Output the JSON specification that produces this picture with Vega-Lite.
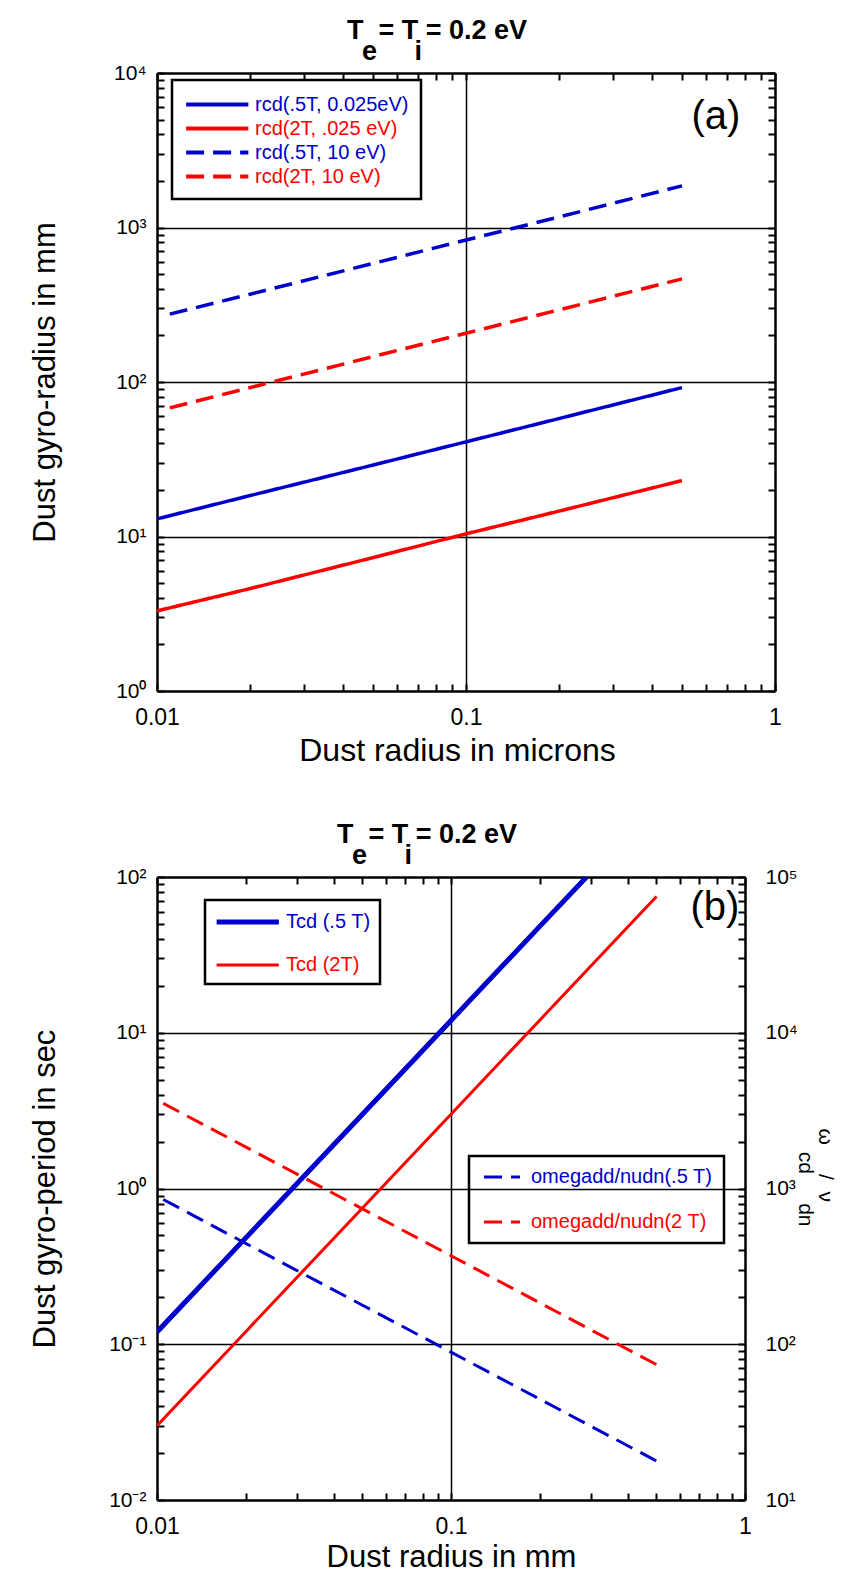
{
  "$schema": "https://vega.github.io/schema/vega-lite/v6.json",
  "padding": {"left": 29, "top": 17, "right": 0, "bottom": 0},
  "background": "white",
  "spacing": 55,
  "config": {
    "view": {"stroke": null},
    "font": "Liberation Sans",
    "axis": {
      "domainColor": "black", "domainWidth": 2.5, "tickColor": "black", "tickWidth": 2, "tickSize": -7,
      "labelColor": "black", "labelFont": "Liberation Sans", "titleFont": "Liberation Sans", "titleFontWeight": "normal",
      "titleColor": "black", "labelOverlap": false, "labelFlush": false, "labelBound": false,
      "gridColor": "black", "gridWidth": 1.5
    }
  },
  "datasets": {
    "a": [
      {"r": 0.01, "v": 13, "s": "rcd(.5T, 0.025eV)"}, {"r": 0.02, "v": 18.4, "s": "rcd(.5T, 0.025eV)"}, {"r": 0.05, "v": 29, "s": "rcd(.5T, 0.025eV)"}, {"r": 0.1, "v": 41, "s": "rcd(.5T, 0.025eV)"}, {"r": 0.2, "v": 58, "s": "rcd(.5T, 0.025eV)"}, {"r": 0.5, "v": 92, "s": "rcd(.5T, 0.025eV)"},
      {"r": 0.01, "v": 3.3, "s": "rcd(2T, .025 eV)"}, {"r": 0.02, "v": 4.6, "s": "rcd(2T, .025 eV)"}, {"r": 0.05, "v": 7.3, "s": "rcd(2T, .025 eV)"}, {"r": 0.1, "v": 10.4, "s": "rcd(2T, .025 eV)"}, {"r": 0.2, "v": 14.6, "s": "rcd(2T, .025 eV)"}, {"r": 0.5, "v": 23, "s": "rcd(2T, .025 eV)"},
      {"r": 0.011, "v": 275, "s": "rcd(.5T, 10 eV)"}, {"r": 0.02, "v": 370, "s": "rcd(.5T, 10 eV)"}, {"r": 0.05, "v": 585, "s": "rcd(.5T, 10 eV)"}, {"r": 0.1, "v": 830, "s": "rcd(.5T, 10 eV)"}, {"r": 0.2, "v": 1170, "s": "rcd(.5T, 10 eV)"}, {"r": 0.5, "v": 1860, "s": "rcd(.5T, 10 eV)"},
      {"r": 0.011, "v": 68, "s": "rcd(2T, 10 eV)"}, {"r": 0.02, "v": 92, "s": "rcd(2T, 10 eV)"}, {"r": 0.05, "v": 146, "s": "rcd(2T, 10 eV)"}, {"r": 0.1, "v": 207, "s": "rcd(2T, 10 eV)"}, {"r": 0.2, "v": 293, "s": "rcd(2T, 10 eV)"}, {"r": 0.5, "v": 465, "s": "rcd(2T, 10 eV)"}
    ],
    "tcd": [
      {"r": 0.01, "v": 0.12, "s": "Tcd (.5 T)"}, {"r": 0.02, "v": 0.48, "s": "Tcd (.5 T)"}, {"r": 0.05, "v": 3, "s": "Tcd (.5 T)"}, {"r": 0.1, "v": 12, "s": "Tcd (.5 T)"}, {"r": 0.2, "v": 48, "s": "Tcd (.5 T)"}, {"r": 0.289, "v": 100, "s": "Tcd (.5 T)"},
      {"r": 0.01, "v": 0.03, "s": "Tcd (2T)"}, {"r": 0.02, "v": 0.12, "s": "Tcd (2T)"}, {"r": 0.05, "v": 0.75, "s": "Tcd (2T)"}, {"r": 0.1, "v": 3, "s": "Tcd (2T)"}, {"r": 0.2, "v": 12, "s": "Tcd (2T)"}, {"r": 0.5, "v": 75, "s": "Tcd (2T)"}
    ],
    "om": [
      {"r": 0.0105, "v": 850, "s": "omegadd/nudn(.5 T)"}, {"r": 0.02, "v": 445, "s": "omegadd/nudn(.5 T)"}, {"r": 0.05, "v": 178, "s": "omegadd/nudn(.5 T)"}, {"r": 0.1, "v": 89, "s": "omegadd/nudn(.5 T)"}, {"r": 0.2, "v": 44.5, "s": "omegadd/nudn(.5 T)"}, {"r": 0.5, "v": 17.8, "s": "omegadd/nudn(.5 T)"},
      {"r": 0.0105, "v": 3520, "s": "omegadd/nudn(2 T)"}, {"r": 0.02, "v": 1850, "s": "omegadd/nudn(2 T)"}, {"r": 0.05, "v": 740, "s": "omegadd/nudn(2 T)"}, {"r": 0.1, "v": 370, "s": "omegadd/nudn(2 T)"}, {"r": 0.2, "v": 185, "s": "omegadd/nudn(2 T)"}, {"r": 0.5, "v": 74, "s": "omegadd/nudn(2 T)"}
    ]
  },
  "vconcat": [
    {
      "width": 618, "height": 618,
      "title": {"text": ["T\u00a0\u00a0= T\u00a0= 0.2 eV", "\u200b\u00a0\u00a0e\u00a0\u00a0\u00a0\u00a0\u00a0i"], "anchor": "start", "frame": "group", "align": "left", "dx": 190, "fontSize": 27, "fontWeight": "bold", "font": "Liberation Sans", "lineHeight": 21, "offset": -4, "color": "black"},
      "layer": [
        {
          "data": {"name": "a"},
          "mark": {"type": "line", "strokeWidth": 3.5, "clip": true},
          "encoding": {
            "x": {"field": "r", "type": "quantitative", "scale": {"type": "log", "domain": [0.01, 1]},
              "axis": {"orient": "bottom", "values": [0.01,0.02,0.03,0.04,0.05,0.06,0.07,0.08,0.09,0.1,0.2,0.3,0.4,0.5,0.6,0.7,0.8,0.9,1],
                "labelExpr": "datum.value == 0.01 ? '0.01' : datum.value == 0.1 ? '0.1' : datum.value == 1 ? '1' : ''",
                "labelFontSize": 23, "labelPadding": 22, "labelBaseline": "top",
                "grid": true, "gridOpacity": {"condition": {"test": "datum.value == 0.1", "value": 1}, "value": 0},
                "title": "Dust radius in microns", "titleFontSize": 32, "titleX": 300, "titleAlign": "center", "titleY": 69, "titleBaseline": "alphabetic"}},
            "y": {"field": "v", "type": "quantitative", "scale": {"type": "log", "domain": [1, 10000]},
              "axis": {"orient": "left", "values": [1,2,3,4,5,6,7,8,9,10,20,30,40,50,60,70,80,90,100,200,300,400,500,600,700,800,900,1000,2000,3000,4000,5000,6000,7000,8000,9000,10000],
                "labelExpr": "datum.value == 1 ? '10⁰' : datum.value == 10 ? '10¹' : datum.value == 100 ? '10²' : datum.value == 1000 ? '10³' : datum.value == 10000 ? '10⁴' : ''",
                "labelFontSize": 21, "labelPadding": 18, "labelBaseline": "middle",
                "grid": true, "gridOpacity": {"condition": {"test": "datum.value == 10 || datum.value == 100 || datum.value == 1000", "value": 1}, "value": 0},
                "title": "Dust gyro-radius in mm", "titleFontSize": 31, "titleX": -103, "titleBaseline": "alphabetic"}},
            "color": {"field": "s", "type": "nominal",
              "scale": {"domain": ["rcd(.5T, 0.025eV)", "rcd(2T, .025 eV)", "rcd(.5T, 10 eV)", "rcd(2T, 10 eV)"], "range": ["#0000cc", "#ff0000", "#0000cc", "#ff0000"]},
              "legend": {"orient": "none", "legendX": 15, "legendY": 7, "title": null, "direction": "vertical", "symbolType": "M-1,0H5", "symbolSize": 430, "symbolStrokeWidth": 4, "labelFontSize": 20, "labelFont": "Liberation Sans", "labelOffset": 46, "padding": 12, "rowPadding": 1, "strokeColor": "black", "labelLimit": 400,
                "encode": {"labels": {"update": {"fill": {"signal": "indexof(datum.value, '2T') >= 0 ? '#ff0000' : '#0000cc'"}}}, "legend": {"update": {"strokeWidth": {"value": 2.5}}}}}},
            "strokeDash": {"field": "s", "type": "nominal",
              "scale": {"domain": ["rcd(.5T, 0.025eV)", "rcd(2T, .025 eV)", "rcd(.5T, 10 eV)", "rcd(2T, 10 eV)"], "range": [[1, 0], [1, 0], [18, 9], [18, 9]]},
              "legend": {"orient": "none", "legendX": 15, "legendY": 7, "title": null, "direction": "vertical", "symbolType": "M-1,0H5", "symbolSize": 430, "symbolStrokeWidth": 4, "labelFontSize": 20, "labelFont": "Liberation Sans", "labelOffset": 46, "padding": 12, "rowPadding": 1, "strokeColor": "black", "labelLimit": 400,
                "encode": {"labels": {"update": {"fill": {"signal": "indexof(datum.value, '2T') >= 0 ? '#ff0000' : '#0000cc'"}}}, "legend": {"update": {"strokeWidth": {"value": 2.5}}}}}}
          }
        },
        {
          "data": {"values": [{"lx": 0.644, "ly": 5190, "t": "(a)"}]},
          "mark": {"type": "text", "fontSize": 40, "font": "Liberation Sans", "color": "black", "baseline": "middle", "align": "center"},
          "encoding": {
            "x": {"field": "lx", "type": "quantitative", "axis": {"orient": "top", "values": [0.01,0.02,0.03,0.04,0.05,0.06,0.07,0.08,0.09,0.1,0.2,0.3,0.4,0.5,0.6,0.7,0.8,0.9,1], "labels": false, "title": null, "grid": false}},
            "y": {"field": "ly", "type": "quantitative", "axis": {"orient": "right", "values": [1,2,3,4,5,6,7,8,9,10,20,30,40,50,60,70,80,90,100,200,300,400,500,600,700,800,900,1000,2000,3000,4000,5000,6000,7000,8000,9000,10000], "labels": false, "title": null, "grid": false}},
            "text": {"field": "t"}
          }
        }
      ],
      "resolve": {"axis": {"x": "independent", "y": "independent"}}
    },
    {
      "width": 588, "height": 623,
      "title": {"text": ["T\u00a0\u00a0= T\u00a0= 0.2 eV", "\u200b\u00a0\u00a0e\u00a0\u00a0\u00a0\u00a0\u00a0i"], "anchor": "start", "frame": "group", "align": "left", "dx": 180, "fontSize": 27, "fontWeight": "bold", "font": "Liberation Sans", "lineHeight": 21, "offset": -4, "color": "black"},
      "layer": [
        {
          "data": {"name": "tcd"},
          "mark": {"type": "line", "clip": true},
          "encoding": {
            "x": {"field": "r", "type": "quantitative", "scale": {"type": "log", "domain": [0.01, 1]},
              "axis": {"orient": "bottom", "values": [0.01,0.02,0.03,0.04,0.05,0.06,0.07,0.08,0.09,0.1,0.2,0.3,0.4,0.5,0.6,0.7,0.8,0.9,1],
                "labelExpr": "datum.value == 0.01 ? '0.01' : datum.value == 0.1 ? '0.1' : datum.value == 1 ? '1' : ''",
                "labelFontSize": 23, "labelPadding": 22, "labelBaseline": "top",
                "grid": true, "gridOpacity": {"condition": {"test": "datum.value == 0.1", "value": 1}, "value": 0},
                "title": "Dust radius in mm", "titleFontSize": 31, "titleY": 66, "titleBaseline": "alphabetic"}},
            "y": {"field": "v", "type": "quantitative", "scale": {"type": "log", "domain": [0.01, 100]},
              "axis": {"orient": "left", "values": [0.01,0.02,0.03,0.04,0.05,0.06,0.07,0.08,0.09,0.1,0.2,0.3,0.4,0.5,0.6,0.7,0.8,0.9,1,2,3,4,5,6,7,8,9,10,20,30,40,50,60,70,80,90,100],
                "labelExpr": "datum.value == 0.01 ? '10⁻²' : datum.value == 0.1 ? '10⁻¹' : datum.value == 1 ? '10⁰' : datum.value == 10 ? '10¹' : datum.value == 100 ? '10²' : ''",
                "labelFontSize": 21, "labelPadding": 18, "labelBaseline": "middle",
                "grid": true, "gridOpacity": {"condition": {"test": "datum.value == 0.1 || datum.value == 1 || datum.value == 10", "value": 1}, "value": 0},
                "title": "Dust gyro-period in sec", "titleFontSize": 31, "titleX": -103, "titleBaseline": "alphabetic"}},
            "color": {"field": "s", "type": "nominal",
              "scale": {"domain": ["Tcd (.5 T)", "Tcd (2T)"], "range": ["#0000cc", "#ff0000"]},
              "legend": {"orient": "none", "legendX": 48, "legendY": 23, "title": null, "direction": "vertical", "symbolType": "M-1,0H5", "symbolSize": 430, "labelFontSize": 20, "labelFont": "Liberation Sans", "labelOffset": 46, "padding": 9, "rowPadding": 21, "strokeColor": "black", "labelLimit": 400,
                "encode": {"labels": {"update": {"fill": {"signal": "indexof(datum.value, '2T') >= 0 ? '#ff0000' : '#0000cc'"}}}, "legend": {"update": {"strokeWidth": {"value": 2.5}}}}}},
            "strokeWidth": {"field": "s", "type": "nominal",
              "scale": {"domain": ["Tcd (.5 T)", "Tcd (2T)"], "range": [5, 3]},
              "legend": {"orient": "none", "legendX": 48, "legendY": 23, "title": null, "direction": "vertical", "symbolType": "M-1,0H5", "symbolSize": 430, "labelFontSize": 20, "labelFont": "Liberation Sans", "labelOffset": 46, "padding": 9, "rowPadding": 21, "strokeColor": "black", "labelLimit": 400,
                "encode": {"labels": {"update": {"fill": {"signal": "indexof(datum.value, '2T') >= 0 ? '#ff0000' : '#0000cc'"}}}, "legend": {"update": {"strokeWidth": {"value": 2.5}}}}}}
          }
        },
        {
          "data": {"name": "om"},
          "mark": {"type": "line", "strokeWidth": 3, "clip": true},
          "encoding": {
            "x": {"field": "r", "type": "quantitative", "scale": {"type": "log", "domain": [0.01, 1]},
              "axis": {"orient": "top", "values": [0.01,0.02,0.03,0.04,0.05,0.06,0.07,0.08,0.09,0.1,0.2,0.3,0.4,0.5,0.6,0.7,0.8,0.9,1], "labels": false, "title": null, "grid": false}},
            "y": {"field": "v", "type": "quantitative", "scale": {"type": "log", "domain": [10, 100000]},
              "axis": {"orient": "right", "values": [10,20,30,40,50,60,70,80,90,100,200,300,400,500,600,700,800,900,1000,2000,3000,4000,5000,6000,7000,8000,9000,10000,20000,30000,40000,50000,60000,70000,80000,90000,100000],
                "labelExpr": "datum.value == 10 ? '10¹' : datum.value == 100 ? '10²' : datum.value == 1000 ? '10³' : datum.value == 10000 ? '10⁴' : datum.value == 100000 ? '10⁵' : ''",
                "labelFontSize": 21, "labelPadding": 27, "labelBaseline": "middle", "grid": false,
                "title": ["ω\u00a0\u00a0\u00a0\u00a0\u00a0/\u00a0\u00a0ν", "\u200b\u00a0\u00a0\u00a0\u00a0cd\u00a0\u00a0\u00a0\u00a0\u00a0dn"], "titleFontSize": 21, "titleAngle": 90, "titleAlign": "left", "titleBaseline": "middle", "titleLineHeight": 20, "titleX": 79, "titleY": 251}},
            "color": {"field": "s", "type": "nominal",
              "scale": {"domain": ["omegadd/nudn(.5 T)", "omegadd/nudn(2 T)"], "range": ["#0000cc", "#ff0000"]},
              "legend": {"orient": "none", "legendX": 312, "legendY": 279, "title": null, "direction": "vertical", "symbolType": "M-1,0H5", "symbolSize": 144, "symbolStrokeWidth": 3, "labelFontSize": 20, "labelFont": "Liberation Sans", "labelOffset": 31, "padding": 11, "rowPadding": 25, "strokeColor": "black", "labelLimit": 400,
                "encode": {"labels": {"update": {"fill": {"signal": "indexof(datum.value, '2 T') >= 0 ? '#ff0000' : '#0000cc'"}}}, "legend": {"update": {"strokeWidth": {"value": 2.5}}}}}},
            "strokeDash": {"field": "s", "type": "nominal",
              "scale": {"domain": ["omegadd/nudn(.5 T)", "omegadd/nudn(2 T)"], "range": [[18, 9], [18, 9]]},
              "legend": {"orient": "none", "legendX": 312, "legendY": 279, "title": null, "direction": "vertical", "symbolType": "M-1,0H5", "symbolSize": 144, "symbolStrokeWidth": 3, "labelFontSize": 20, "labelFont": "Liberation Sans", "labelOffset": 31, "padding": 11, "rowPadding": 25, "strokeColor": "black", "labelLimit": 400,
                "encode": {"labels": {"update": {"fill": {"signal": "indexof(datum.value, '2 T') >= 0 ? '#ff0000' : '#0000cc'"}}}, "legend": {"update": {"strokeWidth": {"value": 2.5}}}}}}
          }
        },
        {
          "data": {"values": [{"lx": 0.79, "ly": 63, "t": "(b)"}]},
          "mark": {"type": "text", "fontSize": 40, "font": "Liberation Sans", "color": "black", "baseline": "middle", "align": "center"},
          "encoding": {
            "x": {"field": "lx", "type": "quantitative", "axis": null},
            "y": {"field": "ly", "type": "quantitative", "scale": {"type": "log", "domain": [0.01, 100]}, "axis": null},
            "text": {"field": "t"}
          }
        }
      ],
      "resolve": {"scale": {"y": "independent", "color": "independent", "strokeDash": "independent", "strokeWidth": "independent"}, "axis": {"x": "independent", "y": "independent"}}
    }
  ]
}
